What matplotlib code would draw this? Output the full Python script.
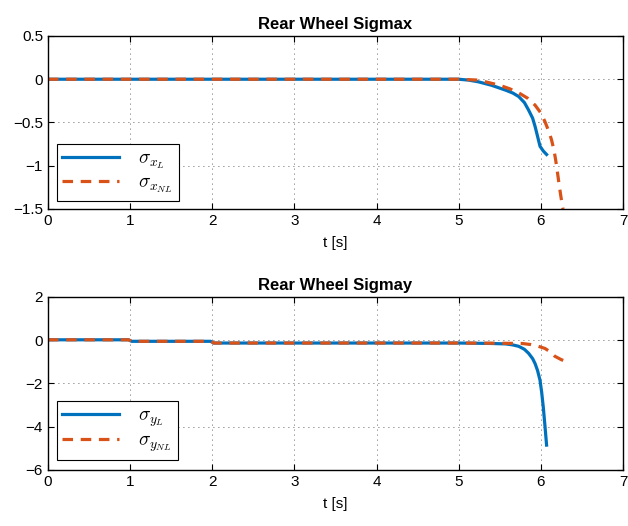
import matplotlib
matplotlib.use("Agg")
import matplotlib.pyplot as plt

# Sigma x (rear wheel)
tx_lin = [0, 1, 2, 3, 4, 5.0, 5.12, 5.24, 5.40, 5.57, 5.66, 5.73, 5.80, 5.85, 5.90, 5.93, 5.96, 5.99, 6.03, 6.07]
sx_lin = [0, 0, 0, 0, 0, 0.0, -0.01, -0.03, -0.07, -0.126, -0.16, -0.20, -0.27, -0.355, -0.45, -0.546, -0.66, -0.775, -0.83, -0.87]
tx_nl = [0, 1, 2, 3, 4, 5.0, 5.24, 5.50, 5.62, 5.73, 5.84, 5.93, 6.00, 6.05, 6.10, 6.13, 6.16, 6.18, 6.20, 6.22, 6.24, 6.26, 6.27]
sx_nl = [0, 0, 0, 0, 0, 0.0, -0.01, -0.07, -0.11, -0.157, -0.22, -0.30, -0.39, -0.49, -0.61, -0.70, -0.82, -0.93, -1.06, -1.2, -1.33, -1.45, -1.5]

# Sigma y (rear wheel)
ty_lin = [0, 0.98, 1.02, 1.98, 2.02, 3, 4, 5.0, 5.40, 5.57, 5.65, 5.73, 5.80, 5.85, 5.90, 5.93, 5.96, 5.99, 6.01, 6.03, 6.05, 6.07]
sy_lin = [0.02, 0.02, -0.05, -0.05, -0.13, -0.13, -0.13, -0.13, -0.15, -0.17, -0.21, -0.28, -0.42, -0.6, -0.85, -1.08, -1.4, -1.85, -2.4, -3.1, -3.95, -4.85]
ty_nl = [0, 0.98, 1.02, 1.98, 2.02, 3, 4, 5.0, 5.5, 5.77, 5.88, 5.97, 6.05, 6.12, 6.17, 6.25, 6.3]
sy_nl = [0.02, 0.02, -0.05, -0.05, -0.13, -0.13, -0.13, -0.13, -0.14, -0.15, -0.2, -0.28, -0.38, -0.55, -0.74, -0.9, -0.97]

BLUE = "#0072BD"
ORANGE = "#D95319"

plt.rcParams["font.family"] = ["Liberation Sans", "DejaVu Sans"]
plt.rcParams["mathtext.fontset"] = "cm"
plt.rcParams["xtick.direction"] = "in"
plt.rcParams["ytick.direction"] = "in"

fig = plt.figure(figsize=(6.28, 5.26), dpi=100)
ax1 = fig.add_axes([0.0764, 0.6027, 0.9156, 0.3289])
ax2 = fig.add_axes([0.0764, 0.1065, 0.9156, 0.3289])


def style(ax, title):
    ax.set_xlim(0, 7)
    ax.set_xticks(range(0, 8))
    ax.grid(True, linestyle=(0, (1, 5)), color="black", linewidth=0.6, alpha=0.8)
    ax.tick_params(labelsize=11, top=True, right=True, length=4)
    ax.set_title(title, fontsize=12, fontweight="bold", pad=5)
    ax.set_xlabel("t [s]", fontsize=11, labelpad=6)
    for s in ax.spines.values():
        s.set_linewidth(1.0)


ax1.plot(tx_lin, sx_lin, color=BLUE, linewidth=2.3, label=r"$\sigma_{x_L}$")
ax1.plot(tx_nl, sx_nl, color=ORANGE, linewidth=2.3, linestyle=(0, (3.3, 2.4)),
         label=r"$\sigma_{x_{NL}}$")
ax1.set_ylim(-1.5, 0.5)
ax1.set_yticks([-1.5, -1, -0.5, 0, 0.5])
ax1.set_yticklabels(["\u22121.5", "\u22121", "\u22120.5", "0", "0.5"])
style(ax1, "Rear Wheel Sigmax")

ax2.plot(ty_lin, sy_lin, color=BLUE, linewidth=2.3, label=r"$\sigma_{y_L}$")
ax2.plot(ty_nl, sy_nl, color=ORANGE, linewidth=2.3, linestyle=(0, (3.3, 2.4)),
         label=r"$\sigma_{y_{NL}}$")
ax2.set_ylim(-6, 2)
ax2.set_yticks([-6, -4, -2, 0, 2])
ax2.set_yticklabels(["\u22126", "\u22124", "\u22122", "0", "2"])
style(ax2, "Rear Wheel Sigmay")

for ax, yoff in ((ax1, 0.046), (ax2, 0.06)):
    leg = ax.legend(loc="lower left", bbox_to_anchor=(0.015, yoff), fontsize=14,
                    fancybox=False, framealpha=1, edgecolor="black",
                    handlelength=2.9, borderpad=0.3, labelspacing=0.15,
                    borderaxespad=0, handletextpad=1.0)
    leg.get_frame().set_linewidth(0.8)

fig.savefig("out.png", dpi=100)
